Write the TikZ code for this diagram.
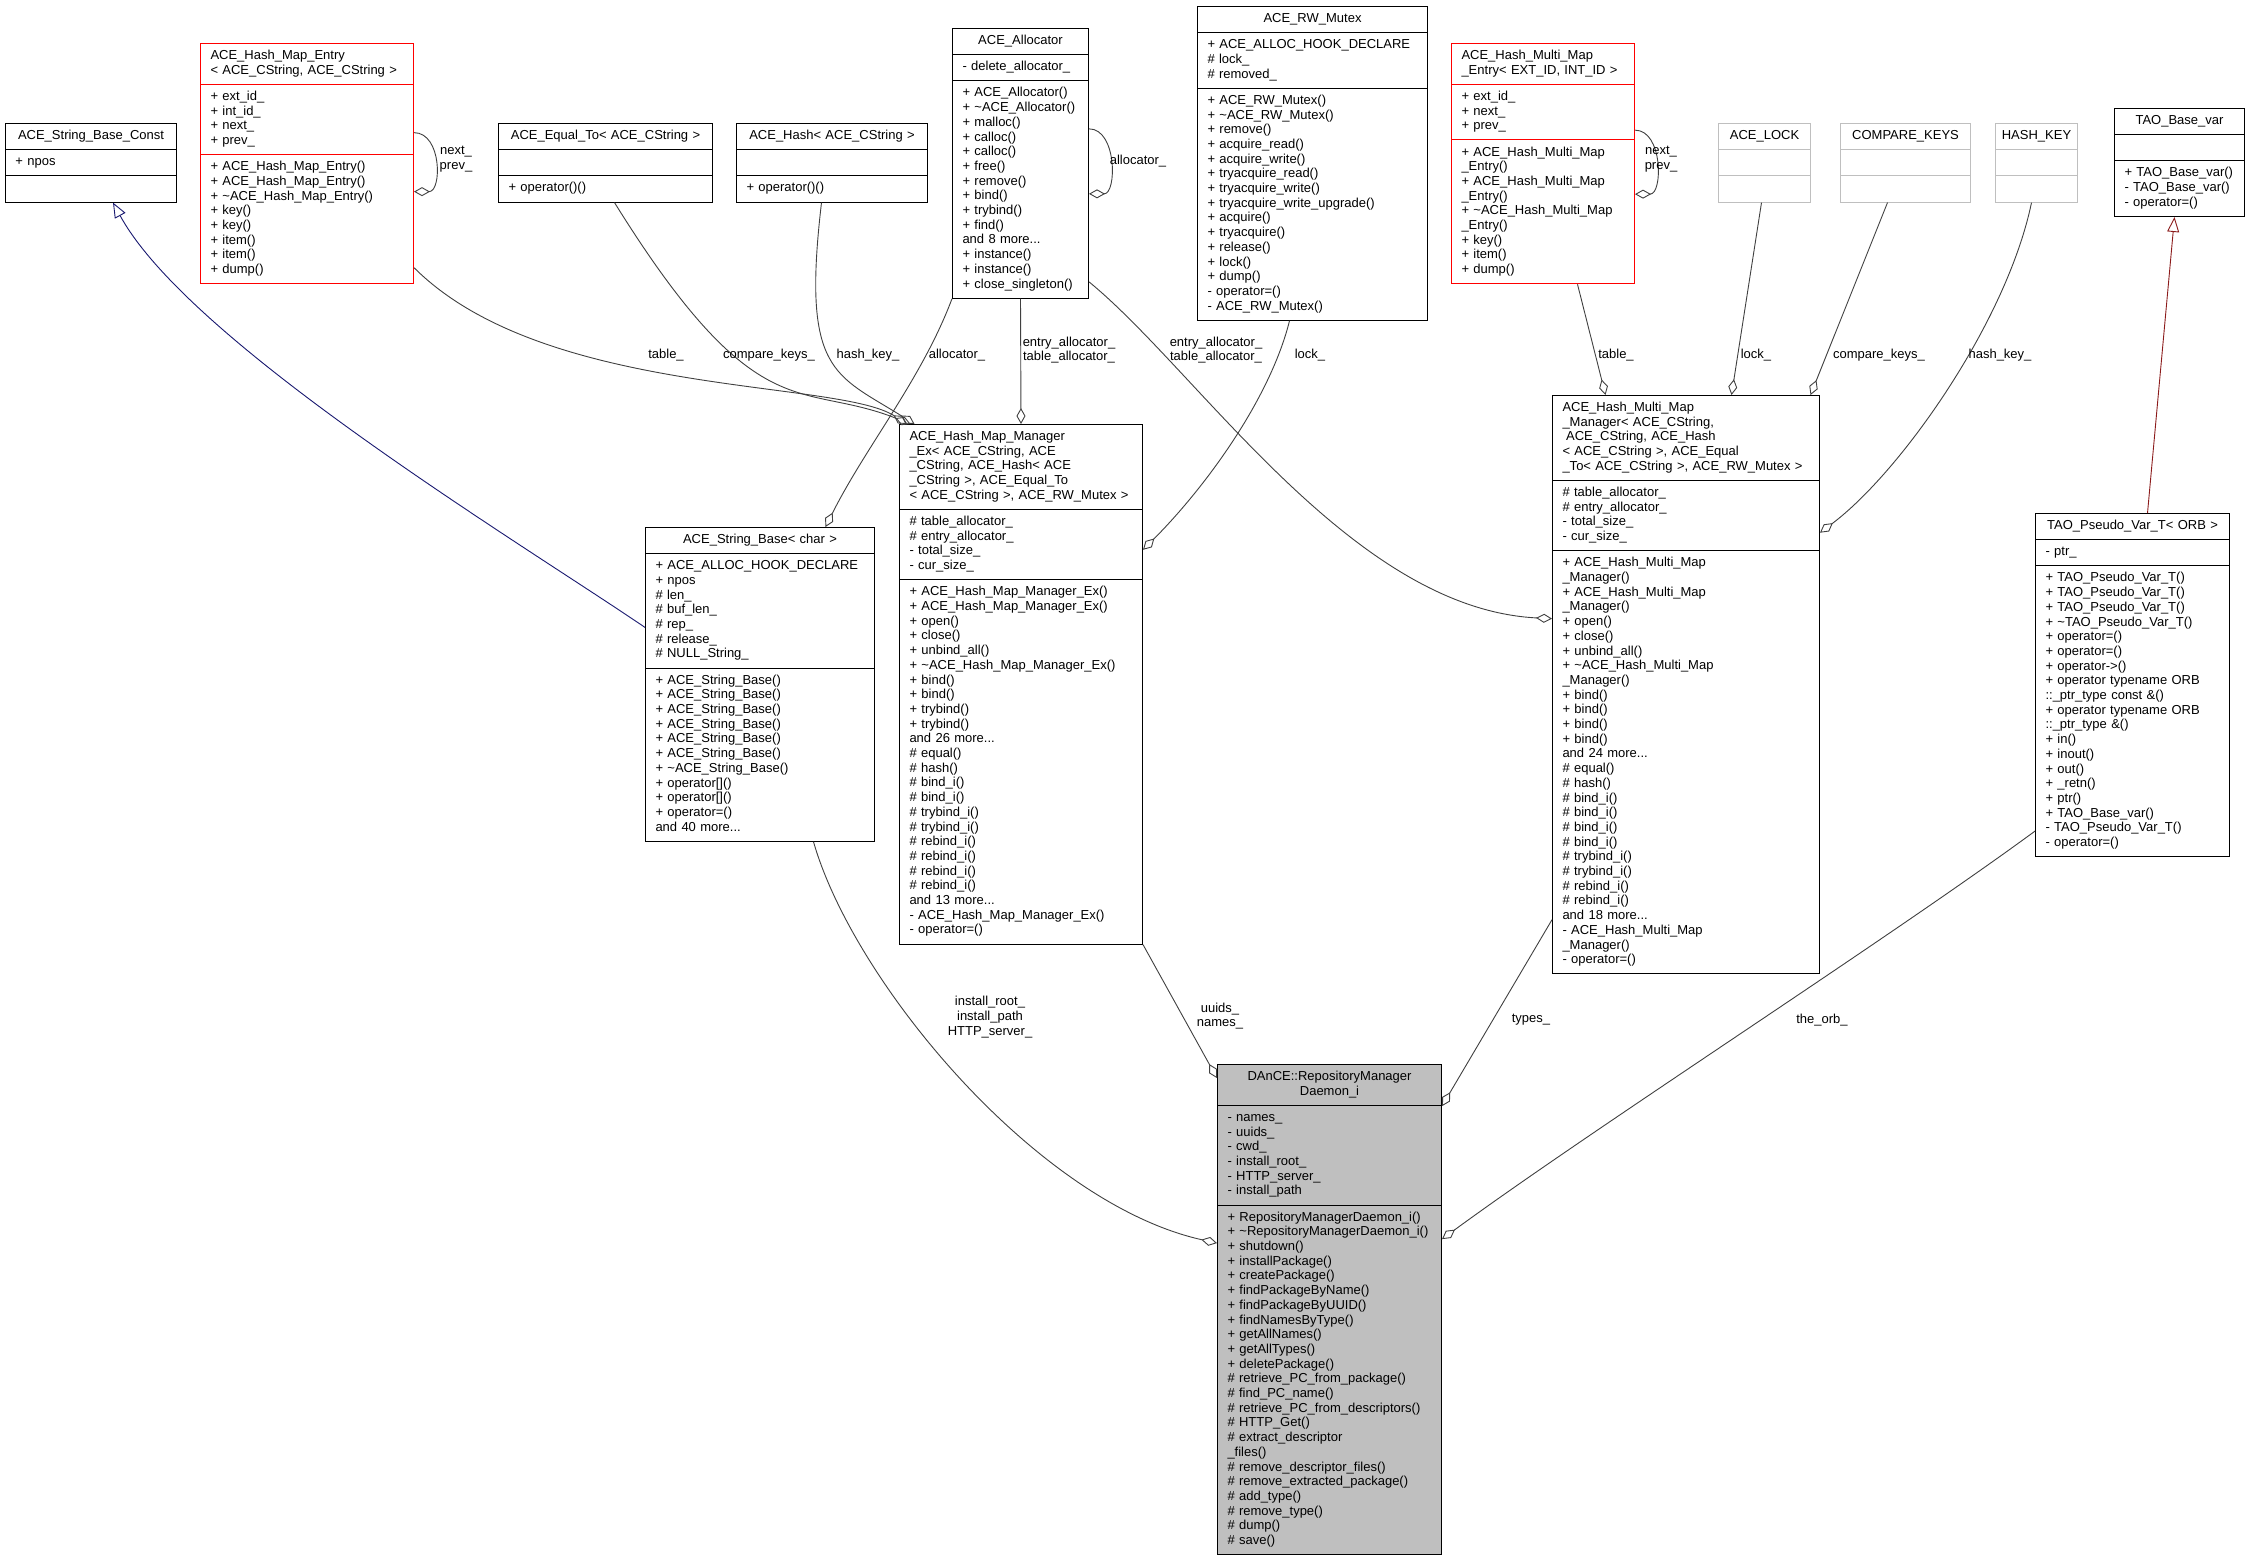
\documentclass[tikz,border=0pt]{standalone}
\usepackage{fontspec}
\setmainfont{Liberation Sans}
\usepackage{xcolor}
\usetikzlibrary{positioning,arrows.meta,shapes.multipart}
\definecolor{edgegray}{HTML}{404040}
\definecolor{boxgray}{HTML}{BFBFBF}
\definecolor{inhblue}{HTML}{191970}
\definecolor{inhred}{HTML}{8B1A1A}
\newcommand{\cpart}[1]{\strut#1\strut}
\newcommand{\ctr}[1]{\hfill#1\hfill\null}

\begin{document}
\begin{tikzpicture}[
  x=1pt, y=-1pt,
  cls/.style={rectangle split, rectangle split parts=3, draw, line width=1pt,
              anchor=north west, inner xsep=10pt, inner ysep=5.25pt,
              align=left, font=\fontsize{13}{14.7}\selectfont},
  redcls/.style={cls, draw=red},
  greycls/.style={cls, draw=boxgray},
  lbl/.style={align=center, inner sep=0pt, font=\fontsize{13}{14.7}\selectfont},
  aggr/.style={draw=edgegray, line width=0.9pt, -{Diamond[open, length=16pt, width=9pt]}},
  inherit/.style={line width=0.9pt, -{Triangle[open, length=15pt, width=12pt]}}
]
  \useasboundingbox (0,0) rectangle (2249,1557);

  % top row
  \node[cls, text width=151pt] (sbconst) at (5,123)
    {\cpart{\ctr{ACE\_String\_Base\_Const}}\nodepart{two}\cpart{+ npos}\nodepart{three}\strut};
  \node[redcls, text width=193pt] (hmentry) at (200,43)
    {\cpart{ACE\_Hash\_Map\_Entry\\< ACE\_CString, ACE\_CString >}
     \nodepart{two}\cpart{+ ext\_id\_\\+ int\_id\_\\+ next\_\\+ prev\_}
     \nodepart{three}\cpart{+ ACE\_Hash\_Map\_Entry()\\+ ACE\_Hash\_Map\_Entry()\\+ \textasciitilde ACE\_Hash\_Map\_Entry()\\+ key()\\+ key()\\+ item()\\+ item()\\+ dump()}};
  \node[cls, text width=194pt] (equalto) at (498,123)
    {\cpart{\ctr{ACE\_Equal\_To< ACE\_CString >}}\nodepart{two}\strut\nodepart{three}\cpart{+ operator()()}};
  \node[cls, text width=171pt] (hash) at (736,123)
    {\cpart{\ctr{ACE\_Hash< ACE\_CString >}}\nodepart{two}\strut\nodepart{three}\cpart{+ operator()()}};
  \node[cls, text width=116pt] (alloc) at (952,28)
    {\cpart{\ctr{ACE\_Allocator}}
     \nodepart{two}\cpart{- delete\_allocator\_}
     \nodepart{three}\cpart{+ ACE\_Allocator()\\+ \textasciitilde ACE\_Allocator()\\+ malloc()\\+ calloc()\\+ calloc()\\+ free()\\+ remove()\\+ bind()\\+ trybind()\\+ find()\\and 8 more...\\+ instance()\\+ instance()\\+ close\_singleton()}};
  \node[cls, text width=210pt] (rwmutex) at (1197,6)
    {\cpart{\ctr{ACE\_RW\_Mutex}}
     \nodepart{two}\cpart{+ ACE\_ALLOC\_HOOK\_DECLARE\\\# lock\_\\\# removed\_}
     \nodepart{three}\cpart{+ ACE\_RW\_Mutex()\\+ \textasciitilde ACE\_RW\_Mutex()\\+ remove()\\+ acquire\_read()\\+ acquire\_write()\\+ tryacquire\_read()\\+ tryacquire\_write()\\+ tryacquire\_write\_upgrade()\\+ acquire()\\+ tryacquire()\\+ release()\\+ lock()\\+ dump()\\- operator=()\\- ACE\_RW\_Mutex()}};
  \node[redcls, text width=163pt] (mmentry) at (1451,43)
    {\cpart{ACE\_Hash\_Multi\_Map\\\_Entry< EXT\_ID, INT\_ID >}
     \nodepart{two}\cpart{+ ext\_id\_\\+ next\_\\+ prev\_}
     \nodepart{three}\cpart{+ ACE\_Hash\_Multi\_Map\\\_Entry()\\+ ACE\_Hash\_Multi\_Map\\\_Entry()\\+ \textasciitilde ACE\_Hash\_Multi\_Map\\\_Entry()\\+ key()\\+ item()\\+ dump()}};
  \node[greycls, text width=72pt] (acelock) at (1718,123)
    {\cpart{\ctr{ACE\_LOCK}}\nodepart{two}\strut\nodepart{three}\strut};
  \node[greycls, text width=110pt] (cmpkeys) at (1840,123)
    {\cpart{\ctr{COMPARE\_KEYS}}\nodepart{two}\strut\nodepart{three}\strut};
  \node[greycls, inner xsep=4pt, text width=74pt] (hashkey) at (1995,123)
    {\cpart{\ctr{HASH\_KEY}}\nodepart{two}\strut\nodepart{three}\strut};
  \node[cls, text width=110pt] (taobase) at (2114,108)
    {\cpart{\ctr{TAO\_Base\_var}}\nodepart{two}\strut
     \nodepart{three}\cpart{+ TAO\_Base\_var()\\- TAO\_Base\_var()\\- operator=()}};

  % middle row
  \node[cls, text width=209pt] (strbase) at (645,527)
    {\cpart{\ctr{ACE\_String\_Base< char >}}
     \nodepart{two}\cpart{+ ACE\_ALLOC\_HOOK\_DECLARE\\+ npos\\\# len\_\\\# buf\_len\_\\\# rep\_\\\# release\_\\\# NULL\_String\_}
     \nodepart{three}\cpart{+ ACE\_String\_Base()\\+ ACE\_String\_Base()\\+ ACE\_String\_Base()\\+ ACE\_String\_Base()\\+ ACE\_String\_Base()\\+ ACE\_String\_Base()\\+ \textasciitilde ACE\_String\_Base()\\+ operator[]()\\+ operator[]()\\+ operator=()\\and 40 more...}};
  \node[cls, text width=223pt] (hmmgr) at (899,424)
    {\cpart{ACE\_Hash\_Map\_Manager\\\_Ex< ACE\_CString, ACE\\\_CString, ACE\_Hash< ACE\\\_CString >, ACE\_Equal\_To\\< ACE\_CString >, ACE\_RW\_Mutex >}
     \nodepart{two}\cpart{\# table\_allocator\_\\\# entry\_allocator\_\\- total\_size\_\\- cur\_size\_}
     \nodepart{three}\cpart{+ ACE\_Hash\_Map\_Manager\_Ex()\\+ ACE\_Hash\_Map\_Manager\_Ex()\\+ open()\\+ close()\\+ unbind\_all()\\+ \textasciitilde ACE\_Hash\_Map\_Manager\_Ex()\\+ bind()\\+ bind()\\+ trybind()\\+ trybind()\\and 26 more...\\\# equal()\\\# hash()\\\# bind\_i()\\\# bind\_i()\\\# trybind\_i()\\\# trybind\_i()\\\# rebind\_i()\\\# rebind\_i()\\\# rebind\_i()\\\# rebind\_i()\\and 13 more...\\- ACE\_Hash\_Map\_Manager\_Ex()\\- operator=()}};
  \node[cls, text width=247pt] (mmmgr) at (1552,395)
    {\cpart{ACE\_Hash\_Multi\_Map\\\_Manager< ACE\_CString,\\\hspace*{0.28em}ACE\_CString, ACE\_Hash\\< ACE\_CString >, ACE\_Equal\\\_To< ACE\_CString >, ACE\_RW\_Mutex >}
     \nodepart{two}\cpart{\# table\_allocator\_\\\# entry\_allocator\_\\- total\_size\_\\- cur\_size\_}
     \nodepart{three}\cpart{+ ACE\_Hash\_Multi\_Map\\\_Manager()\\+ ACE\_Hash\_Multi\_Map\\\_Manager()\\+ open()\\+ close()\\+ unbind\_all()\\+ \textasciitilde ACE\_Hash\_Multi\_Map\\\_Manager()\\+ bind()\\+ bind()\\+ bind()\\+ bind()\\and 24 more...\\\# equal()\\\# hash()\\\# bind\_i()\\\# bind\_i()\\\# bind\_i()\\\# bind\_i()\\\# trybind\_i()\\\# trybind\_i()\\\# rebind\_i()\\\# rebind\_i()\\and 18 more...\\- ACE\_Hash\_Multi\_Map\\\_Manager()\\- operator=()}};
  \node[cls, text width=174pt] (pseudo) at (2035,513)
    {\cpart{\ctr{TAO\_Pseudo\_Var\_T< ORB >}}
     \nodepart{two}\cpart{- ptr\_}
     \nodepart{three}\cpart{+ TAO\_Pseudo\_Var\_T()\\+ TAO\_Pseudo\_Var\_T()\\+ TAO\_Pseudo\_Var\_T()\\+ \textasciitilde TAO\_Pseudo\_Var\_T()\\+ operator=()\\+ operator=()\\+ operator->()\\+ operator typename ORB\\::\_ptr\_type const \&()\\+ operator typename ORB\\::\_ptr\_type \&()\\+ in()\\+ inout()\\+ out()\\+ \_retn()\\+ ptr()\\+ TAO\_Base\_var()\\- TAO\_Pseudo\_Var\_T()\\- operator=()}};

  % the daemon
  \node[cls, fill=boxgray, text width=204pt] (daemon) at (1217,1064)
    {\cpart{\ctr{DAnCE::RepositoryManager}\\\ctr{Daemon\_i}}
     \nodepart{two}\cpart{- names\_\\- uuids\_\\- cwd\_\\- install\_root\_\\- HTTP\_server\_\\- install\_path}
     \nodepart{three}\cpart{+ RepositoryManagerDaemon\_i()\\+ \textasciitilde RepositoryManagerDaemon\_i()\\+ shutdown()\\+ installPackage()\\+ createPackage()\\+ findPackageByName()\\+ findPackageByUUID()\\+ findNamesByType()\\+ getAllNames()\\+ getAllTypes()\\+ deletePackage()\\\# retrieve\_PC\_from\_package()\\\# find\_PC\_name()\\\# retrieve\_PC\_from\_descriptors()\\\# HTTP\_Get()\\\# extract\_descriptor\\\_files()\\\# remove\_descriptor\_files()\\\# remove\_extracted\_package()\\\# add\_type()\\\# remove\_type()\\\# dump()\\\# save()}};

  % inheritance
  \draw[inherit, draw=inhblue] ([shift={(0,-57)}]strbase.west) .. controls +(-125,-85) and +(77,141) .. ([shift={(22,0)}]sbconst.south);
  \draw[inherit, draw=inhred] ([shift={(15,0)}]pseudo.north) -- ([shift={(-5,0)}]taobase.south);

  % members, upper part
  \draw[aggr] ([shift={(0,-31)}]hmentry.east) .. controls +(28,0) and +(28,0) .. ([shift={(0,28)}]hmentry.east);
  \draw[aggr] ([shift={(0,-34.5)}]alloc.east) .. controls +(28,0) and +(28,0) .. ([shift={(0,30.5)}]alloc.east);
  \draw[aggr] ([shift={(0,-33.5)}]mmentry.east) .. controls +(28,0) and +(28,0) .. ([shift={(0,30.5)}]mmentry.east);
  \draw[aggr] ([shift={(0,104)}]hmentry.east) .. controls +(130,130) and +(-70,-45) .. ([shift={(-114,0)}]hmmgr.north);
  \draw[aggr] ([shift={(9,0)}]equalto.south) .. controls +(143,230) and +(-111,-44) .. ([shift={(-110.5,0)}]hmmgr.north);
  \draw[aggr] ([shift={(-10.5,0)}]hash.south) .. controls +(-20,170) and +(-80,-50) .. ([shift={(-106.5,0)}]hmmgr.north);
  \draw[aggr] (alloc.south west) .. controls +(-30,80) and +(40,-80) .. ([shift={(65.5,0)}]strbase.north);
  \draw[aggr] (alloc.south) -- (hmmgr.north);
  \draw[aggr] ([shift={(0,118.5)}]alloc.east) .. controls +(110,90) and +(-200,-10) .. ([shift={(0,-66)}]mmmgr.west);
  \draw[aggr] ([shift={(-23,0)}]rwmutex.south) .. controls +(-20,80) and +(60,-60) .. ([shift={(0,-134.5)}]hmmgr.east);
  \draw[aggr] ([shift={(34.5,0)}]mmentry.south) -- ([shift={(-80.5,0)}]mmmgr.north);
  \draw[aggr] ([shift={(-3,0)}]acelock.south) -- ([shift={(45.5,0)}]mmmgr.north);
  \draw[aggr] ([shift={(-18,0)}]cmpkeys.south) -- ([shift={(124.5,0)}]mmmgr.north);
  \draw[aggr] ([shift={(-5,0)}]hashkey.south) .. controls +(-25,120) and +(80,-60) .. ([shift={(0,-152)}]mmmgr.east);

  % members of the daemon
  \draw[aggr] ([shift={(53.5,0)}]strbase.south) .. controls +(40,140) and +(-180,-40) .. ([shift={(0,-66.5)}]daemon.west);
  \draw[aggr] (hmmgr.south east) -- ([shift={(0,-231.5)}]daemon.west);
  \draw[aggr] ([shift={(0,235)}]mmmgr.west) -- ([shift={(0,-203.5)}]daemon.east);
  \draw[aggr] ([shift={(0,146)}]pseudo.west) .. controls +(-150,110) and +(150,-110) .. ([shift={(0,-70.5)}]daemon.east);

  % labels
  \node[lbl] (lnext1) at (456,159) {next\_\\prev\_};
  \node[lbl] (lalloc0) at (1138,161) {allocator\_};
  \node[lbl] (lnext2) at (1661,159) {next\_\\prev\_};
  \node[lbl] (ltable1) at (666,355) {table\_};
  \node[lbl] (lcmp1) at (769,355) {compare\_keys\_};
  \node[lbl] (lhash1) at (868,355) {hash\_key\_};
  \node[lbl] (lalloc1) at (957,355) {allocator\_};
  \node[lbl] (lalloc2) at (1069,350) {entry\_allocator\_\\table\_allocator\_};
  \node[lbl] (lalloc3) at (1216,350) {entry\_allocator\_\\table\_allocator\_};
  \node[lbl] (llock1) at (1310,355) {lock\_};
  \node[lbl] (ltable2) at (1616,355) {table\_};
  \node[lbl] (llock2) at (1756,355) {lock\_};
  \node[lbl] (lcmp2) at (1879,355) {compare\_keys\_};
  \node[lbl] (lhash2) at (2000,355) {hash\_key\_};
  \node[lbl] (linstall) at (990,1017) {install\_root\_\\install\_path\\HTTP\_server\_};
  \node[lbl] (luuids) at (1220,1016) {uuids\_\\names\_};
  \node[lbl] (ltypes) at (1531,1020) {types\_};
  \node[lbl] (lorb) at (1822,1020) {the\_orb\_};
\end{tikzpicture}
\end{document}
